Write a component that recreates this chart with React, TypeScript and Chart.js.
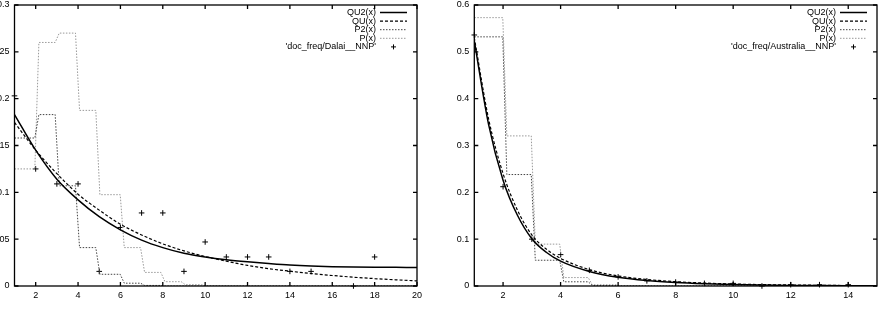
import { useEffect, useRef } from "react";
import { Chart, registerables } from "chart.js";

Chart.register(...registerables);

const FONT = "'Liberation Sans', Arial, Helvetica, sans-serif";

// ---------- Dalai panel ----------
const dalaiCurveX = [1, 2, 3, 4, 5, 6, 7, 8, 9, 10, 11, 12, 13, 14, 15, 16, 17, 18, 19, 20];
const dalaiQU2 = [0.183, 0.145, 0.114, 0.092, 0.074, 0.06, 0.049, 0.041, 0.035, 0.031, 0.028, 0.0258, 0.024, 0.0224, 0.0213, 0.0206, 0.0202, 0.02, 0.0199, 0.0198];
const dalaiQU = [0.1746, 0.145, 0.12, 0.098, 0.081, 0.066, 0.0545, 0.045, 0.0375, 0.0315, 0.0265, 0.022, 0.0185, 0.0158, 0.0133, 0.0112, 0.0094, 0.0079, 0.0066, 0.0055];
// step levels for the integer bins [1,2), [2,3), ... [19,20]
const dalaiP2 = [0.158, 0.183, 0.107, 0.041, 0.0125, 0.003, 0.0006, 0, 0, 0, 0, 0, 0, 0, 0, 0, 0, 0, 0];
const dalaiP = [0.125, 0.26, 0.27, 0.1875, 0.0975, 0.041, 0.0145, 0.0046, 0.0014, 0.0003, 0, 0, 0, 0, 0, 0, 0, 0, 0];
const dalaiFreqX = [1, 2, 3, 4, 5, 6, 7, 8, 9, 10, 11, 12, 13, 14, 15, 17, 18];
const dalaiFreq = [0.203, 0.125, 0.109, 0.109, 0.0156, 0.0625, 0.078, 0.078, 0.0156, 0.047, 0.031, 0.031, 0.031, 0.0156, 0.0156, 0, 0.031];
const dalaiXTicks = [2, 4, 6, 8, 10, 12, 14, 16, 18, 20];
const dalaiYTicks = [0, 0.05, 0.1, 0.15, 0.2, 0.25, 0.3];
const dalaiYLabels = ["0", "0.05", "0.1", "0.15", "0.2", "0.25", "0.3"];

// ---------- Australia panel ----------
const ausCurveX = [1, 1.5, 2, 2.5, 3, 3.5, 4, 5, 6, 7, 8, 9, 10, 11, 12, 13, 14, 15];
const ausQU2 = [0.523, 0.344, 0.226, 0.151, 0.101, 0.072, 0.053, 0.031, 0.0185, 0.0115, 0.0073, 0.0047, 0.003, 0.002, 0.0013, 0.0009, 0.0006, 0.0004];
const ausQU = [0.53, 0.356, 0.24, 0.162, 0.109, 0.079, 0.059, 0.035, 0.0215, 0.014, 0.0093, 0.0063, 0.0043, 0.003, 0.0021, 0.0015, 0.001, 0.0007];
const ausP2 = [0.532, 0.238, 0.055, 0.009, 0.0012, 0.0001, 0, 0, 0, 0, 0, 0, 0, 0];
const ausP = [0.573, 0.3205, 0.0894, 0.018, 0.0025, 0.0003, 0, 0, 0, 0, 0, 0, 0, 0];
const ausFreqX = [1, 2, 3, 4, 5, 6, 7, 8, 9, 10, 11, 12, 13, 14];
const ausFreq = [0.536, 0.212, 0.1, 0.067, 0.0335, 0.0195, 0.011, 0.0084, 0.0056, 0.0056, 0, 0.0028, 0.0028, 0.0028];
const ausXTicks = [2, 4, 6, 8, 10, 12, 14];
const ausYTicks = [0, 0.1, 0.2, 0.3, 0.4, 0.5, 0.6];
const ausYLabels = ["0", "0.1", "0.2", "0.3", "0.4", "0.5", "0.6"];

const TICK = 4;

// Pair x/y arrays into points
const pts = (xs: number[], ys: number[]) => xs.map((x, i) => ({ x, y: ys[i] }));

// Integer-binned step function drawn the way a sampled plot shows it:
// each level spans from the first to the last sample inside its bin.
function stepPoints(levels: number[], xMin: number, xMax: number, samples = 100) {
  const grid: number[] = [];
  for (let k = 0; k < samples; k++) grid.push(xMin + ((xMax - xMin) * k) / (samples - 1));
  const out: { x: number; y: number }[] = [];
  levels.forEach((lv, i) => {
    const lo = xMin + i;
    const hi = lo + 1;
    const last = i === levels.length - 1;
    const inBin = grid.filter((g) => g >= lo - 1e-9 && (g < hi - 1e-9 || last));
    if (!inBin.length) return;
    out.push({ x: inBin[0], y: lv }, { x: inBin[inBin.length - 1], y: lv });
  });
  return out;
}

const frameAndKey = {
  id: "frameAndKey",
  afterDraw(chart: any) {
    const { ctx, chartArea: a, scales } = chart;
    const xs = scales.x;
    const ys = scales.y;
    ctx.save();
    ctx.strokeStyle = "#000";
    ctx.lineWidth = 1.3;
    ctx.setLineDash([]);
    ctx.beginPath();
    for (const t of xs.ticks) {
      const px = xs.getPixelForValue(t.value);
      ctx.moveTo(px, a.bottom);
      ctx.lineTo(px, a.bottom - TICK);
      ctx.moveTo(px, a.top);
      ctx.lineTo(px, a.top + TICK);
    }
    for (const t of ys.ticks) {
      const py = ys.getPixelForValue(t.value);
      ctx.moveTo(a.left, py);
      ctx.lineTo(a.left + TICK, py);
      ctx.moveTo(a.right, py);
      ctx.lineTo(a.right - TICK, py);
    }
    ctx.stroke();
    ctx.strokeRect(a.left, a.top, a.right - a.left, a.bottom - a.top);

    // key in the upper right corner
    ctx.font = `9px ${FONT}`;
    ctx.textAlign = "right";
    ctx.textBaseline = "middle";
    ctx.fillStyle = "#000";
    chart.data.datasets.forEach((ds: any, i: number) => {
      const cy = a.top + 7.5 + i * 8.6;
      ctx.fillText(ds.label, a.right - 41, cy);
      const x0 = a.right - 37;
      const x1 = a.right - 10;
      ctx.beginPath();
      if (ds.showLine === false) {
        const cx = (x0 + x1) / 2;
        ctx.setLineDash([]);
        ctx.strokeStyle = "#000";
        ctx.lineWidth = 1;
        ctx.moveTo(cx - 2.5, cy);
        ctx.lineTo(cx + 2.5, cy);
        ctx.moveTo(cx, cy - 2.5);
        ctx.lineTo(cx, cy + 2.5);
      } else {
        ctx.setLineDash(ds.borderDash || []);
        ctx.strokeStyle = ds.borderColor;
        ctx.lineWidth = ds.borderWidth;
        ctx.moveTo(x0, cy);
        ctx.lineTo(x1, cy);
      }
      ctx.stroke();
    });
    ctx.restore();
  },
};

type PanelSpec = {
  name: string;
  xMin: number;
  xMax: number;
  yMax: number;
  curveX: number[];
  qu2: number[];
  qu: number[];
  p2: number[];
  p: number[];
  freqX: number[];
  freq: number[];
  xTicks: number[];
  yTicks: number[];
  yLabels: string[];
  yAxisWidth: number;
  padRight: number;
};

function buildConfig(s: PanelSpec): any {
  const tickFont = { family: FONT, size: 9 };
  return {
    type: "line",
    data: {
      datasets: [
        {
          label: "QU2(x)",
          data: pts(s.curveX, s.qu2),
          borderColor: "#000",
          borderWidth: 1.5,
          pointRadius: 0,
          cubicInterpolationMode: "monotone",
        },
        {
          label: "QU(x)",
          data: pts(s.curveX, s.qu),
          borderColor: "#000",
          borderWidth: 1.2,
          borderDash: [3, 2],
          pointRadius: 0,
          cubicInterpolationMode: "monotone",
        },
        {
          label: "P2(x)",
          data: stepPoints(s.p2, s.xMin, s.xMax),
          borderColor: "#444",
          borderWidth: 1,
          borderDash: [1.5, 1.5],
          pointRadius: 0,
        },
        {
          label: "P(x)",
          data: stepPoints(s.p, s.xMin, s.xMax),
          borderColor: "#999",
          borderWidth: 1,
          borderDash: [1.5, 1.5],
          pointRadius: 0,
        },
        {
          label: `'doc_freq/${s.name}__NNP'`,
          data: pts(s.freqX, s.freq),
          showLine: false,
          pointStyle: "cross",
          pointRadius: 2.8,
          pointBorderWidth: 1,
          pointBorderColor: "#000",
          borderColor: "#000",
          clip: false,
        },
      ],
    },
    options: {
      responsive: false,
      devicePixelRatio: 1,
      animation: false,
      events: [],
      layout: { padding: { left: 0, right: s.padRight, top: 2, bottom: 0 } },
      plugins: { legend: { display: false }, tooltip: { enabled: false } },
      scales: {
        x: {
          type: "linear",
          min: s.xMin,
          max: s.xMax,
          grid: { display: false, drawTicks: false },
          border: { display: false },
          ticks: { font: tickFont, color: "#000", padding: 4, maxRotation: 0, minRotation: 0, autoSkip: false },
          afterBuildTicks: (sc: any) => {
            sc.ticks = s.xTicks.map((v) => ({ value: v }));
          },
          afterFit: (sc: any) => {
            sc.height = 24;
            sc.paddingLeft = 0;
            sc.paddingRight = 0;
          },
        },
        y: {
          type: "linear",
          min: 0,
          max: s.yMax,
          grid: { display: false, drawTicks: false },
          border: { display: false },
          ticks: {
            font: tickFont,
            color: "#000",
            padding: 5,
            autoSkip: false,
            callback: (_v: any, i: number) => s.yLabels[i],
          },
          afterBuildTicks: (sc: any) => {
            sc.ticks = s.yTicks.map((v) => ({ value: v }));
          },
          afterFit: (sc: any) => {
            sc.width = s.yAxisWidth;
            sc.paddingTop = 0;
            sc.paddingBottom = 0;
          },
        },
      },
    },
    plugins: [frameAndKey],
  };
}

const dalai: PanelSpec = {
  name: "Dalai",
  xMin: 1,
  xMax: 20,
  yMax: 0.3,
  curveX: dalaiCurveX,
  qu2: dalaiQU2,
  qu: dalaiQU,
  p2: dalaiP2,
  p: dalaiP,
  freqX: dalaiFreqX,
  freq: dalaiFreq,
  xTicks: dalaiXTicks,
  yTicks: dalaiYTicks,
  yLabels: dalaiYLabels,
  yAxisWidth: 14.5,
  padRight: 24,
};

const australia: PanelSpec = {
  name: "Australia",
  xMin: 1,
  xMax: 15,
  yMax: 0.6,
  curveX: ausCurveX,
  qu2: ausQU2,
  qu: ausQU,
  p2: ausP2,
  p: ausP,
  freqX: ausFreqX,
  freq: ausFreq,
  xTicks: ausXTicks,
  yTicks: ausYTicks,
  yLabels: ausYLabels,
  yAxisWidth: 33.3,
  padRight: 0.5,
};

function Panel({ spec, left }: { spec: PanelSpec; left: number }) {
  const ref = useRef<HTMLCanvasElement>(null);
  useEffect(() => {
    const chart = new Chart(ref.current as HTMLCanvasElement, buildConfig(spec));
    return () => chart.destroy();
  }, [spec]);
  return (
    <canvas
      ref={ref}
      width={441}
      height={310}
      style={{ position: "absolute", left, top: 0, width: 441, height: 310 }}
    />
  );
}

export default function App() {
  return (
    <div
      style={{
        position: "fixed",
        left: 0,
        top: 0,
        width: 882,
        height: 310,
        background: "#fff",
        overflow: "hidden",
      }}
    >
      <Panel spec={dalai} left={0} />
      <Panel spec={australia} left={441} />
    </div>
  );
}
